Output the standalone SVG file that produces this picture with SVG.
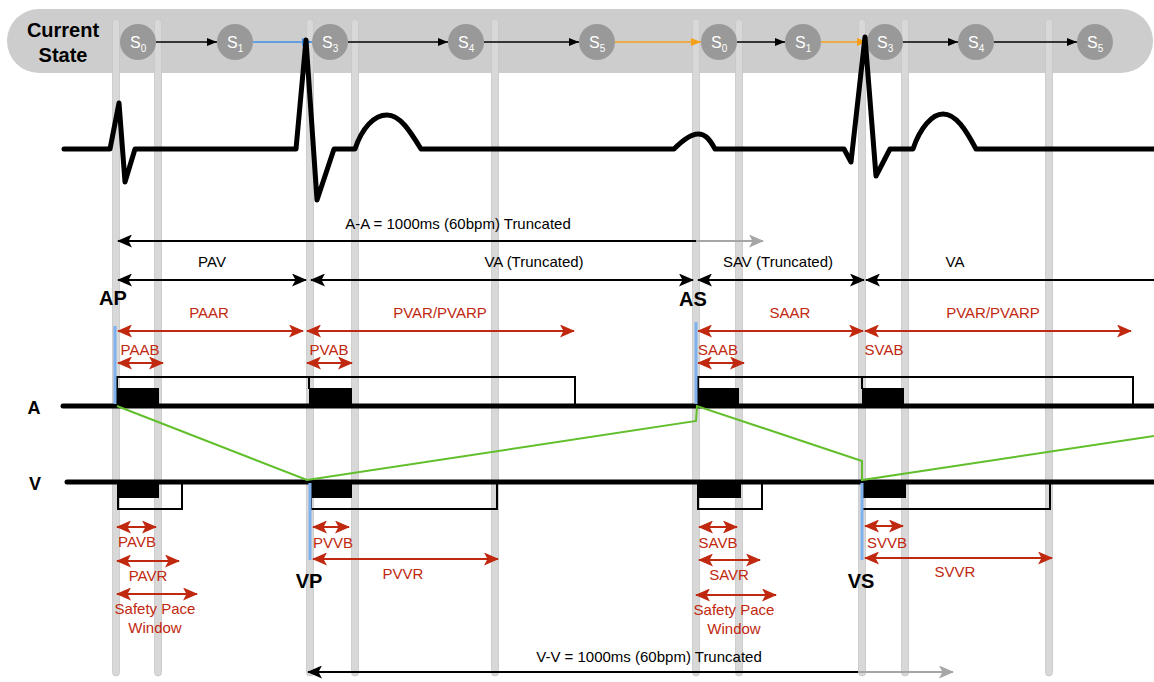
<svg xmlns="http://www.w3.org/2000/svg" width="1154" height="682" viewBox="0 0 1154 682">
<style>
text{font-family:"Liberation Sans",Arial,sans-serif}
.gl{fill:#d8d8d8;stroke:#c6c6c6;stroke-width:0.8}
.st{fill:#999999}
.stt{fill:#ffffff;font-size:16px}
.lbl{font-size:15px;fill:#000;text-anchor:middle}
.rl{font-size:15px;fill:#c0280f;text-anchor:middle}
.bl{font-size:20px;font-weight:bold;fill:#000;text-anchor:middle}
.ka{stroke:#000;stroke-width:2;fill:none}
.ga{stroke:#a6a6a6;stroke-width:2;fill:none}
.ra{stroke:#c0280f;stroke-width:2.2;fill:none}
.sa{stroke-width:1.5;fill:none}
.trk{stroke:#000;stroke-width:5;stroke-linecap:round;fill:none}
.box{stroke:#000;stroke-width:2;fill:none}
.blue{stroke:#7fb1ee;stroke-width:3;fill:none}
</style>
<defs>
<marker id="mk" viewBox="0 0 15 13" refX="14" refY="6.5" markerWidth="15" markerHeight="13" markerUnits="userSpaceOnUse" orient="auto-start-reverse"><path d="M0,0 L15,6.5 L0,13 L3.5,6.5 z" fill="#000"/></marker>
<marker id="mg" viewBox="0 0 15 13" refX="14" refY="6.5" markerWidth="15" markerHeight="13" markerUnits="userSpaceOnUse" orient="auto-start-reverse"><path d="M0,0 L15,6.5 L0,13 L3.5,6.5 z" fill="#a6a6a6"/></marker>
<marker id="mr" viewBox="0 0 15 13" refX="14" refY="6.5" markerWidth="15" markerHeight="13" markerUnits="userSpaceOnUse" orient="auto-start-reverse"><path d="M0,0 L15,6.5 L0,13 L3.5,6.5 z" fill="#c0280f"/></marker>
<marker id="sk" viewBox="0 0 10 8" refX="10" refY="4" markerWidth="10" markerHeight="8" markerUnits="userSpaceOnUse" orient="auto"><path d="M0,0 L10,4 L0,8 z" fill="#000"/></marker>
<marker id="sb" viewBox="0 0 10 8" refX="10" refY="4" markerWidth="10" markerHeight="8" markerUnits="userSpaceOnUse" orient="auto"><path d="M0,0 L10,4 L0,8 z" fill="#3f8fe6"/></marker>
<marker id="so" viewBox="0 0 10 8" refX="10" refY="4" markerWidth="10" markerHeight="8" markerUnits="userSpaceOnUse" orient="auto"><path d="M0,0 L10,4 L0,8 z" fill="#f5a01a"/></marker>
</defs>
<rect width="1154" height="682" fill="#ffffff"/>
<g id="state-bar">
<rect x="7" y="9" width="1146" height="64" rx="32" fill="#cdcdcd"/>
<text x="63" y="37" font-size="20" font-weight="bold" text-anchor="middle">Current</text>
<text x="63" y="62" font-size="20" font-weight="bold" text-anchor="middle">State</text>
</g>
<g id="time-gridlines">
<rect class="gl" x="112.5" y="19" width="7" height="657" rx="3.5"/>
<rect class="gl" x="154.5" y="19" width="7" height="657" rx="3.5"/>
<rect class="gl" x="306.5" y="19" width="7" height="657" rx="3.5"/>
<rect class="gl" x="351.5" y="19" width="7" height="657" rx="3.5"/>
<rect class="gl" x="491.5" y="19" width="7" height="657" rx="3.5"/>
<rect class="gl" x="692.5" y="19" width="7" height="657" rx="3.5"/>
<rect class="gl" x="735.5" y="19" width="7" height="657" rx="3.5"/>
<rect class="gl" x="858.5" y="19" width="7" height="657" rx="3.5"/>
<rect class="gl" x="901.5" y="19" width="7" height="657" rx="3.5"/>
<rect class="gl" x="1045.5" y="19" width="7" height="657" rx="3.5"/>
</g>
<g id="state-connectors">
<path class="sa" stroke="#000" marker-end="url(#sk)" d="M156,42 L217,42"/>
<path class="sa" stroke="#3f8fe6" marker-end="url(#sb)" d="M253,42 L312,42"/>
<path class="sa" stroke="#000" marker-end="url(#sk)" d="M348,42 L448,42"/>
<path class="sa" stroke="#000" marker-end="url(#sk)" d="M484,42 L579,42"/>
<path class="sa" stroke="#f5a01a" marker-end="url(#so)" d="M615,42 L701,42"/>
<path class="sa" stroke="#000" marker-end="url(#sk)" d="M737,42 L785,42"/>
<path class="sa" stroke="#f5a01a" marker-end="url(#so)" d="M821,42 L867,42"/>
<path class="sa" stroke="#000" marker-end="url(#sk)" d="M903,42 L958,42"/>
<path class="sa" stroke="#000" marker-end="url(#sk)" d="M994,42 L1077,42"/>
</g>
<g id="s0a"><circle class="st" cx="138" cy="42" r="18"/><text class="stt" x="130" y="48">S<tspan font-size="10" dy="4">0</tspan></text></g>
<g id="s1a"><circle class="st" cx="235" cy="42" r="18"/><text class="stt" x="227" y="48">S<tspan font-size="10" dy="4">1</tspan></text></g>
<g id="s3a"><circle class="st" cx="330" cy="42" r="18"/><text class="stt" x="322" y="48">S<tspan font-size="10" dy="4">3</tspan></text></g>
<g id="s4a"><circle class="st" cx="466" cy="42" r="18"/><text class="stt" x="458" y="48">S<tspan font-size="10" dy="4">4</tspan></text></g>
<g id="s5a"><circle class="st" cx="597" cy="42" r="18"/><text class="stt" x="589" y="48">S<tspan font-size="10" dy="4">5</tspan></text></g>
<g id="s0b"><circle class="st" cx="719" cy="42" r="18"/><text class="stt" x="711" y="48">S<tspan font-size="10" dy="4">0</tspan></text></g>
<g id="s1b"><circle class="st" cx="803" cy="42" r="18"/><text class="stt" x="795" y="48">S<tspan font-size="10" dy="4">1</tspan></text></g>
<g id="s3b"><circle class="st" cx="885" cy="42" r="18"/><text class="stt" x="877" y="48">S<tspan font-size="10" dy="4">3</tspan></text></g>
<g id="s4b"><circle class="st" cx="976" cy="42" r="18"/><text class="stt" x="968" y="48">S<tspan font-size="10" dy="4">4</tspan></text></g>
<g id="s5b"><circle class="st" cx="1095" cy="42" r="18"/><text class="stt" x="1087" y="48">S<tspan font-size="10" dy="4">5</tspan></text></g>
<g id="ecg">
<path d="M64,149 L110,149 L119,103 L125,182 L135,149 L296,149 L306,40 L317,200 L334,149 L355,149 C362,128 374,115 387,115 C400,115 410,131 421,149 L674,149 C682,141 690,134 698,134 C706,134 710,140 715,149 L844,149 L851,162 L865,37 L876,176 L890,149 L913,149 C920,128 932,114 943,114 C956,114 966,130 976,149 L1154,149" stroke="#000" stroke-width="5" fill="none" stroke-linejoin="round" stroke-linecap="round"/>
</g>
<g id="interval-arrows">
<path class="ka" marker-start="url(#mk)" d="M118,241 L696,241"/>
<path class="ga" marker-end="url(#mg)" d="M696,241 L763,241"/>
<path class="ka" marker-start="url(#mk)" marker-end="url(#mk)" d="M118,280 L306,280"/>
<path class="ka" marker-start="url(#mk)" marker-end="url(#mk)" d="M311,280 L693,280"/>
<path class="ka" marker-start="url(#mk)" marker-end="url(#mk)" d="M698,280 L864,280"/>
<path class="ka" marker-start="url(#mk)" d="M866,280 L1154,280"/>
<path class="ka" marker-start="url(#mk)" d="M308,672 L858,672"/>
<path class="ga" marker-end="url(#mg)" d="M858,672 L953,672"/>
</g>
<g id="refractory-arrows">
<path class="ra" marker-start="url(#mr)" marker-end="url(#mr)" d="M118,331 L303,331"/>
<path class="ra" marker-start="url(#mr)" marker-end="url(#mr)" d="M307,331 L574,331"/>
<path class="ra" marker-start="url(#mr)" marker-end="url(#mr)" d="M698,331 L863,331"/>
<path class="ra" marker-start="url(#mr)" marker-end="url(#mr)" d="M865,331 L1131,331"/>
<path class="ra" marker-start="url(#mr)" marker-end="url(#mr)" d="M118,363 L163,363"/>
<path class="ra" marker-start="url(#mr)" marker-end="url(#mr)" d="M307,363 L352,363"/>
<path class="ra" marker-start="url(#mr)" marker-end="url(#mr)" d="M698,363 L744,363"/>
<path class="ra" marker-start="url(#mr)" marker-end="url(#mr)" d="M117,527 L156,527"/>
<path class="ra" marker-start="url(#mr)" marker-end="url(#mr)" d="M117,561 L179,561"/>
<path class="ra" marker-start="url(#mr)" marker-end="url(#mr)" d="M117,594 L197,594"/>
<path class="ra" marker-start="url(#mr)" marker-end="url(#mr)" d="M313,527 L349,527"/>
<path class="ra" marker-start="url(#mr)" marker-end="url(#mr)" d="M313,559 L498,559"/>
<path class="ra" marker-start="url(#mr)" marker-end="url(#mr)" d="M699,527 L737,527"/>
<path class="ra" marker-start="url(#mr)" marker-end="url(#mr)" d="M699,560 L760,560"/>
<path class="ra" marker-start="url(#mr)" marker-end="url(#mr)" d="M696,595 L776,595"/>
<path class="ra" marker-start="url(#mr)" marker-end="url(#mr)" d="M865,526 L903,526"/>
<path class="ra" marker-start="url(#mr)" marker-end="url(#mr)" d="M865,558 L1052,558"/>
</g>
<g id="atrial-channel">
<path class="box" d="M117,406 L117,377 L575,377 L575,406 M309,377 L309,389"/>
<path class="box" d="M698,406 L698,377 L1133,377 L1133,406 M862,377 L862,389"/>
<rect x="117" y="388" width="42" height="18" fill="#000"/>
<rect x="309" y="388" width="43" height="18" fill="#000"/>
<rect x="698" y="388" width="41" height="18" fill="#000"/>
<rect x="862" y="388" width="42" height="18" fill="#000"/>
<path class="trk" d="M63,406 L1156,406"/>
<text x="34" y="414" font-size="18" font-weight="bold" text-anchor="middle">A</text>
</g>
<g id="ventricular-channel">
<path class="box" d="M118,482 L118,509 L182,509 L182,482"/>
<path class="box" d="M311,482 L311,509 L497,509 L497,482"/>
<path class="box" d="M698,482 L698,509 L762,509 L762,482"/>
<path class="box" d="M862,482 L862,509 L1050,509 L1050,482"/>
<rect x="118" y="482" width="41" height="16" fill="#000"/>
<rect x="312" y="482" width="40" height="16" fill="#000"/>
<rect x="698" y="482" width="43" height="16" fill="#000"/>
<rect x="862" y="482" width="44" height="16" fill="#000"/>
<path class="trk" d="M67,482 L1156,482"/>
<text x="35" y="490" font-size="18" font-weight="bold" text-anchor="middle">V</text>
</g>
<g id="event-markers">
<path class="blue" d="M115,326 L115,404"/>
<path class="blue" d="M696,322 L696,404"/>
<path class="blue" d="M310,483 L310,560"/>
<path class="blue" d="M862,483 L862,560"/>
</g>
<g id="escape-timer">
<path d="M117,406 L307,480 L696,421 L697,406 L862,461 L862,480 L1154,436" stroke="#62bf2c" stroke-width="2" fill="none"/>
</g>
<g id="labels">
<text class="lbl" x="458" y="229">A-A = 1000ms (60bpm) Truncated</text>
<text class="lbl" x="212" y="267">PAV</text>
<text class="lbl" x="534" y="267">VA (Truncated)</text>
<text class="lbl" x="778" y="267">SAV (Truncated)</text>
<text class="lbl" x="955" y="267">VA</text>
<text class="lbl" x="649" y="662">V-V = 1000ms (60bpm) Truncated</text>
<text class="bl" x="113" y="305">AP</text>
<text class="bl" x="693" y="306">AS</text>
<text class="bl" x="309" y="588">VP</text>
<text class="bl" x="861" y="588">VS</text>
<text class="rl" x="209" y="318">PAAR</text>
<text class="rl" x="440" y="318">PVAR/PVARP</text>
<text class="rl" x="790" y="318">SAAR</text>
<text class="rl" x="993" y="318">PVAR/PVARP</text>
<text class="rl" x="140" y="355">PAAB</text>
<text class="rl" x="329" y="355">PVAB</text>
<text class="rl" x="718" y="355">SAAB</text>
<text class="rl" x="884" y="355">SVAB</text>
<text class="rl" x="137" y="547">PAVB</text>
<text class="rl" x="148" y="581">PAVR</text>
<text class="rl" x="155" y="614">Safety Pace</text>
<text class="rl" x="155" y="633">Window</text>
<text class="rl" x="333" y="548">PVVB</text>
<text class="rl" x="403" y="579">PVVR</text>
<text class="rl" x="718" y="548">SAVB</text>
<text class="rl" x="729" y="580">SAVR</text>
<text class="rl" x="734" y="615">Safety Pace</text>
<text class="rl" x="734" y="634">Window</text>
<text class="rl" x="887" y="548">SVVB</text>
<text class="rl" x="955" y="577">SVVR</text>
</g>
</svg>
